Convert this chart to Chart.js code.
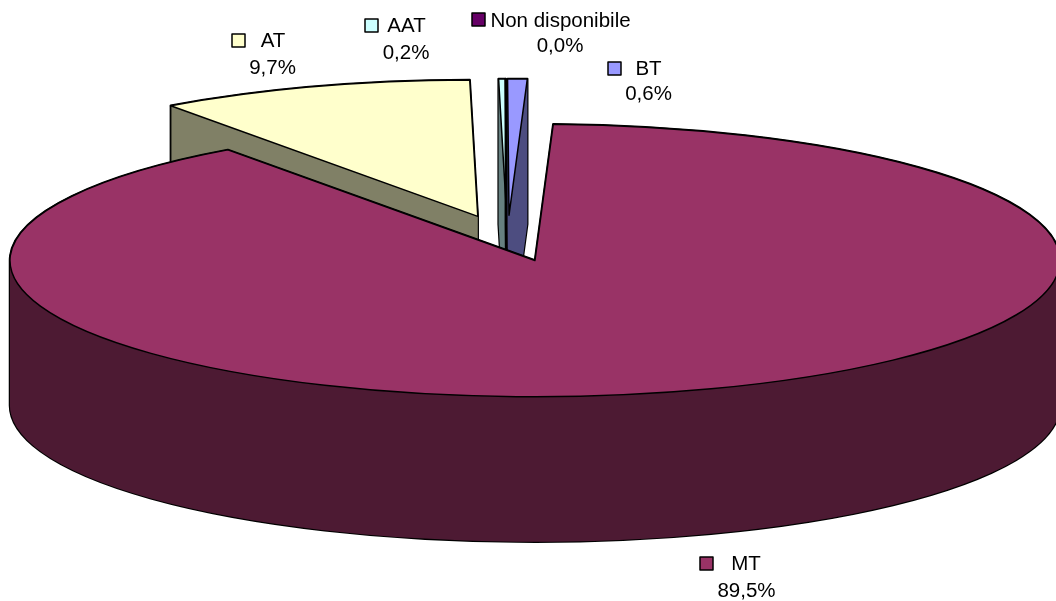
<!DOCTYPE html>
<html>
<head>
<meta charset="utf-8">
<script src="https://cdn.jsdelivr.net/npm/chart.js"></script>
<style>
html, body { margin: 0; padding: 0; background: #fff; overflow: hidden; }
#chart-box { width: 1056px; height: 601px; position: relative; }
</style>
</head>
<body>
<div id="chart-box"><canvas id="pie"></canvas></div>
<script>
const categories = ['MT', 'AT', 'AAT', 'Non disponibile', 'BT'];
const shares = [89.5, 9.7, 0.2, 0.0, 0.6];
const shareLabels = ['89,5%', '9,7%', '0,2%', '0,0%', '0,6%'];

const topColors = ['#993366', '#ffffcc', '#ccffff', '#660066', '#9999ff'];
const wallColors = ['#4d1a33', '#808066', '#668080', '#330033', '#4d4d80'];

// where the flattened pie sits on the page
const pieCenterX = 507.5;
const pieCenterY = 238.3;
const radiusX = 525;
const radiusY = 136.3;
const wallDepth = 145;
const explodeStretchX = 1.06;

// legend square x/y, name centre x/baseline, share centre x/baseline
const labelBoxes = [
    [700, 557, 746, 570, 746.5, 597],
    [232, 34, 273, 47, 272.5, 74],
    [365, 19, 406.5, 32, 406, 59],
    [472, 13, 560.5, 27, 560, 52],
    [608, 62, 648.5, 75, 648.5, 100]
];

function addSlice(ctx, arc, dy) {
    const mid = (arc.startAngle + arc.endAngle) / 2;
    const off = arc.options.offset / arc.outerRadius;
    const x = pieCenterX + Math.cos(mid) * off * explodeStretchX * radiusX;
    const y = pieCenterY + Math.sin(mid) * off * radiusY + dy;
    ctx.moveTo(x, y);
    ctx.ellipse(x, y, radiusX, radiusY, 0, arc.startAngle, arc.endAngle);
    ctx.closePath();
}

function drawSlice(ctx, arc, index) {
    ctx.lineJoin = 'round';
    ctx.strokeStyle = '#000';

    // the wall is one path of stacked slices, so its edges stay clean
    ctx.beginPath();
    for (let dy = 0; dy <= wallDepth; dy += 0.5) {
        addSlice(ctx, arc, dy);
    }
    ctx.lineWidth = 2.4;
    ctx.stroke();
    ctx.fillStyle = wallColors[index];
    ctx.fill();

    ctx.beginPath();
    addSlice(ctx, arc, 0);
    ctx.fillStyle = arc.options.backgroundColor;
    ctx.fill();
    ctx.lineWidth = 1.5;
    ctx.stroke();
}

function drawLabels(ctx) {
    ctx.font = '20.5px "Liberation Sans", Arial, sans-serif';
    ctx.textAlign = 'center';
    ctx.textBaseline = 'alphabetic';
    categories.forEach((name, i) => {
        const box = labelBoxes[i];
        ctx.fillStyle = topColors[i];
        ctx.strokeStyle = '#000';
        ctx.lineWidth = 1.5;
        ctx.fillRect(box[0], box[1], 13, 13);
        ctx.strokeRect(box[0], box[1], 13, 13);
        ctx.fillStyle = '#000';
        ctx.fillText(name, box[2], box[3]);
        ctx.fillText(shareLabels[i], box[4], box[5]);
    });
}

const flatPie = {
    id: 'flatPie',
    beforeDatasetsDraw(chart) {
        const ctx = chart.ctx;
        const arcs = chart.getDatasetMeta(0).data;
        ctx.save();
        // back slices first, MT is in front of all of them
        [1, 2, 3, 4, 0].forEach(i => drawSlice(ctx, arcs[i], i));
        drawLabels(ctx);
        ctx.restore();
        return false;
    }
};

new Chart(document.getElementById('pie'), {
    type: 'pie',
    data: {
        labels: categories,
        datasets: [{
            data: shares,
            backgroundColor: topColors,
            borderWidth: 0,
            offset: 47
        }]
    },
    options: {
        responsive: true,
        maintainAspectRatio: false,
        animation: false,
        events: [],
        rotation: 2,
        plugins: {
            legend: { display: false },
            tooltip: { enabled: false }
        }
    },
    plugins: [flatPie]
});
</script>
</body>
</html>
